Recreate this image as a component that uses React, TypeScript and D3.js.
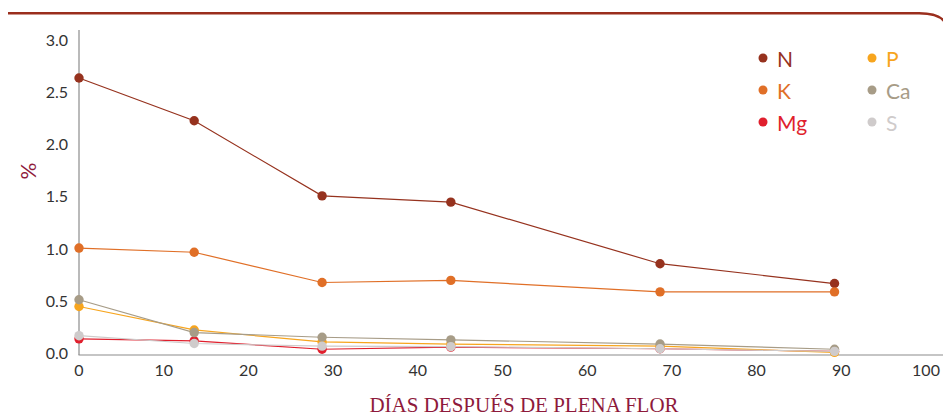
import React from "react";
import * as d3 from "d3";

const days = [0, 13.6, 28.7, 43.9, 68.6, 89.2];
const seriesNames = ["N", "K", "Mg", "P", "Ca", "S"];
const nValues = [2.63, 2.22, 1.5, 1.44, 0.85, 0.66];
const kValues = [1.0, 0.96, 0.67, 0.69, 0.58, 0.58];
const mgValues = [0.13, 0.11, 0.03, 0.05, 0.035, 0.01];
const pValues = [0.44, 0.215, 0.1, 0.08, 0.06, 0.0];
const caValues = [0.505, 0.19, 0.145, 0.12, 0.08, 0.03];
const sValues = [0.16, 0.085, 0.06, 0.055, 0.035, 0.01];
const xTicks = [0, 10, 20, 30, 40, 50, 60, 70, 80, 90, 100];
const yTicks = [0, 0.5, 1.0, 1.5, 2.0, 2.5, 3.0];
const colors: Record<string, string> = {
  N: "#96321e",
  K: "#e06f27",
  Mg: "#e01f2d",
  P: "#f7a51e",
  Ca: "#a79c87",
  S: "#cfcbcb",
};
const legendOrder = [
  ["N", "P"],
  ["K", "Ca"],
  ["Mg", "S"],
];

const W = 943;
const H = 417;

export default function App() {
  const x = d3.scaleLinear().domain([0, 100]).range([79, 926]);
  const y = d3.scaleLinear().domain([-0.025, 3.09]).range([355, 30]);
  const valuesBy: Record<string, number[]> = {
    N: nValues,
    K: kValues,
    Mg: mgValues,
    P: pValues,
    Ca: caValues,
    S: sValues,
  };
  const line = d3
    .line<[number, number]>()
    .x((d) => x(d[0]))
    .y((d) => y(d[1]));

  const axisColor = "#8c8c8c";
  const crimson = "#8e1a3b";
  const borderColor = "#9a2e1d";

  const rr = 20;
  const borderPath = `M8,13.3 L${W - rr - 4},13.3 Q${W - 4},13.3 ${W + 2},${13.3 + rr * 0.45}`;

  return (
    <svg
      width={W}
      height={H}
      style={{ position: "absolute", left: 0, top: 0, background: "#fff" }}
      fontFamily="Lato, 'Open Sans', sans-serif"
    >
      <path d={borderPath} fill="none" stroke={borderColor} strokeWidth={2.4} />

      {/* axes */}
      <line x1={x(0)} x2={x(0)} y1={y(3.09)} y2={y(-0.025)} stroke={axisColor} strokeWidth={1.2} />
      <line x1={x(0) - 0.5} x2={W} y1={y(-0.025)} y2={y(-0.025)} stroke={axisColor} strokeWidth={1.2} />

      {yTicks.map((t) => (
        <text
          key={"y" + t}
          x={x(0) - 11}
          y={y(t)}
          textAnchor="end"
          dominantBaseline="central"
          fontSize={16}
          fill="#333"
        >
          {t.toFixed(1)}
        </text>
      ))}
      {xTicks.map((t) => (
        <text
          key={"x" + t}
          x={x(t)}
          y={y(-0.025) + 14}
          textAnchor="middle"
          dominantBaseline="central"
          fontSize={16}
          fill="#333"
        >
          {t}
        </text>
      ))}

      <text
        transform={`translate(36,${171}) rotate(-90)`}
        textAnchor="middle"
        fontSize={21}
        fill={crimson}
        fontFamily="Lato, sans-serif"
      >
        %
      </text>
      <text
        x={524}
        y={412}
        textAnchor="middle"
        fontSize={21}
        fill={crimson}
        fontFamily="'Liberation Serif', 'DejaVu Serif', serif"
      >
        DÍAS DESPUÉS DE PLENA FLOR
      </text>

      {seriesNames.map((name) => {
        const pts: [number, number][] = days.map((d, i) => [d, valuesBy[name][i]]);
        return (
          <g key={name}>
            <path d={line(pts) || ""} fill="none" stroke={colors[name]} strokeWidth={1.2} />
            {pts.map((p, i) => (
              <circle key={i} cx={x(p[0])} cy={y(p[1])} r={4.7} fill={colors[name]} />
            ))}
          </g>
        );
      })}

      {legendOrder.map((row, ri) =>
        row.map((name, ci) => {
          const lx = ci === 0 ? 763 : 872;
          const ly = 58 + ri * 32;
          return (
            <g key={name}>
              <circle cx={lx} cy={ly} r={4.5} fill={colors[name]} />
              <text
                x={lx + 14}
                y={ly}
                dominantBaseline="central"
                fontSize={21}
                fill={colors[name]}
              >
                {name}
              </text>
            </g>
          );
        })
      )}
    </svg>
  );
}
